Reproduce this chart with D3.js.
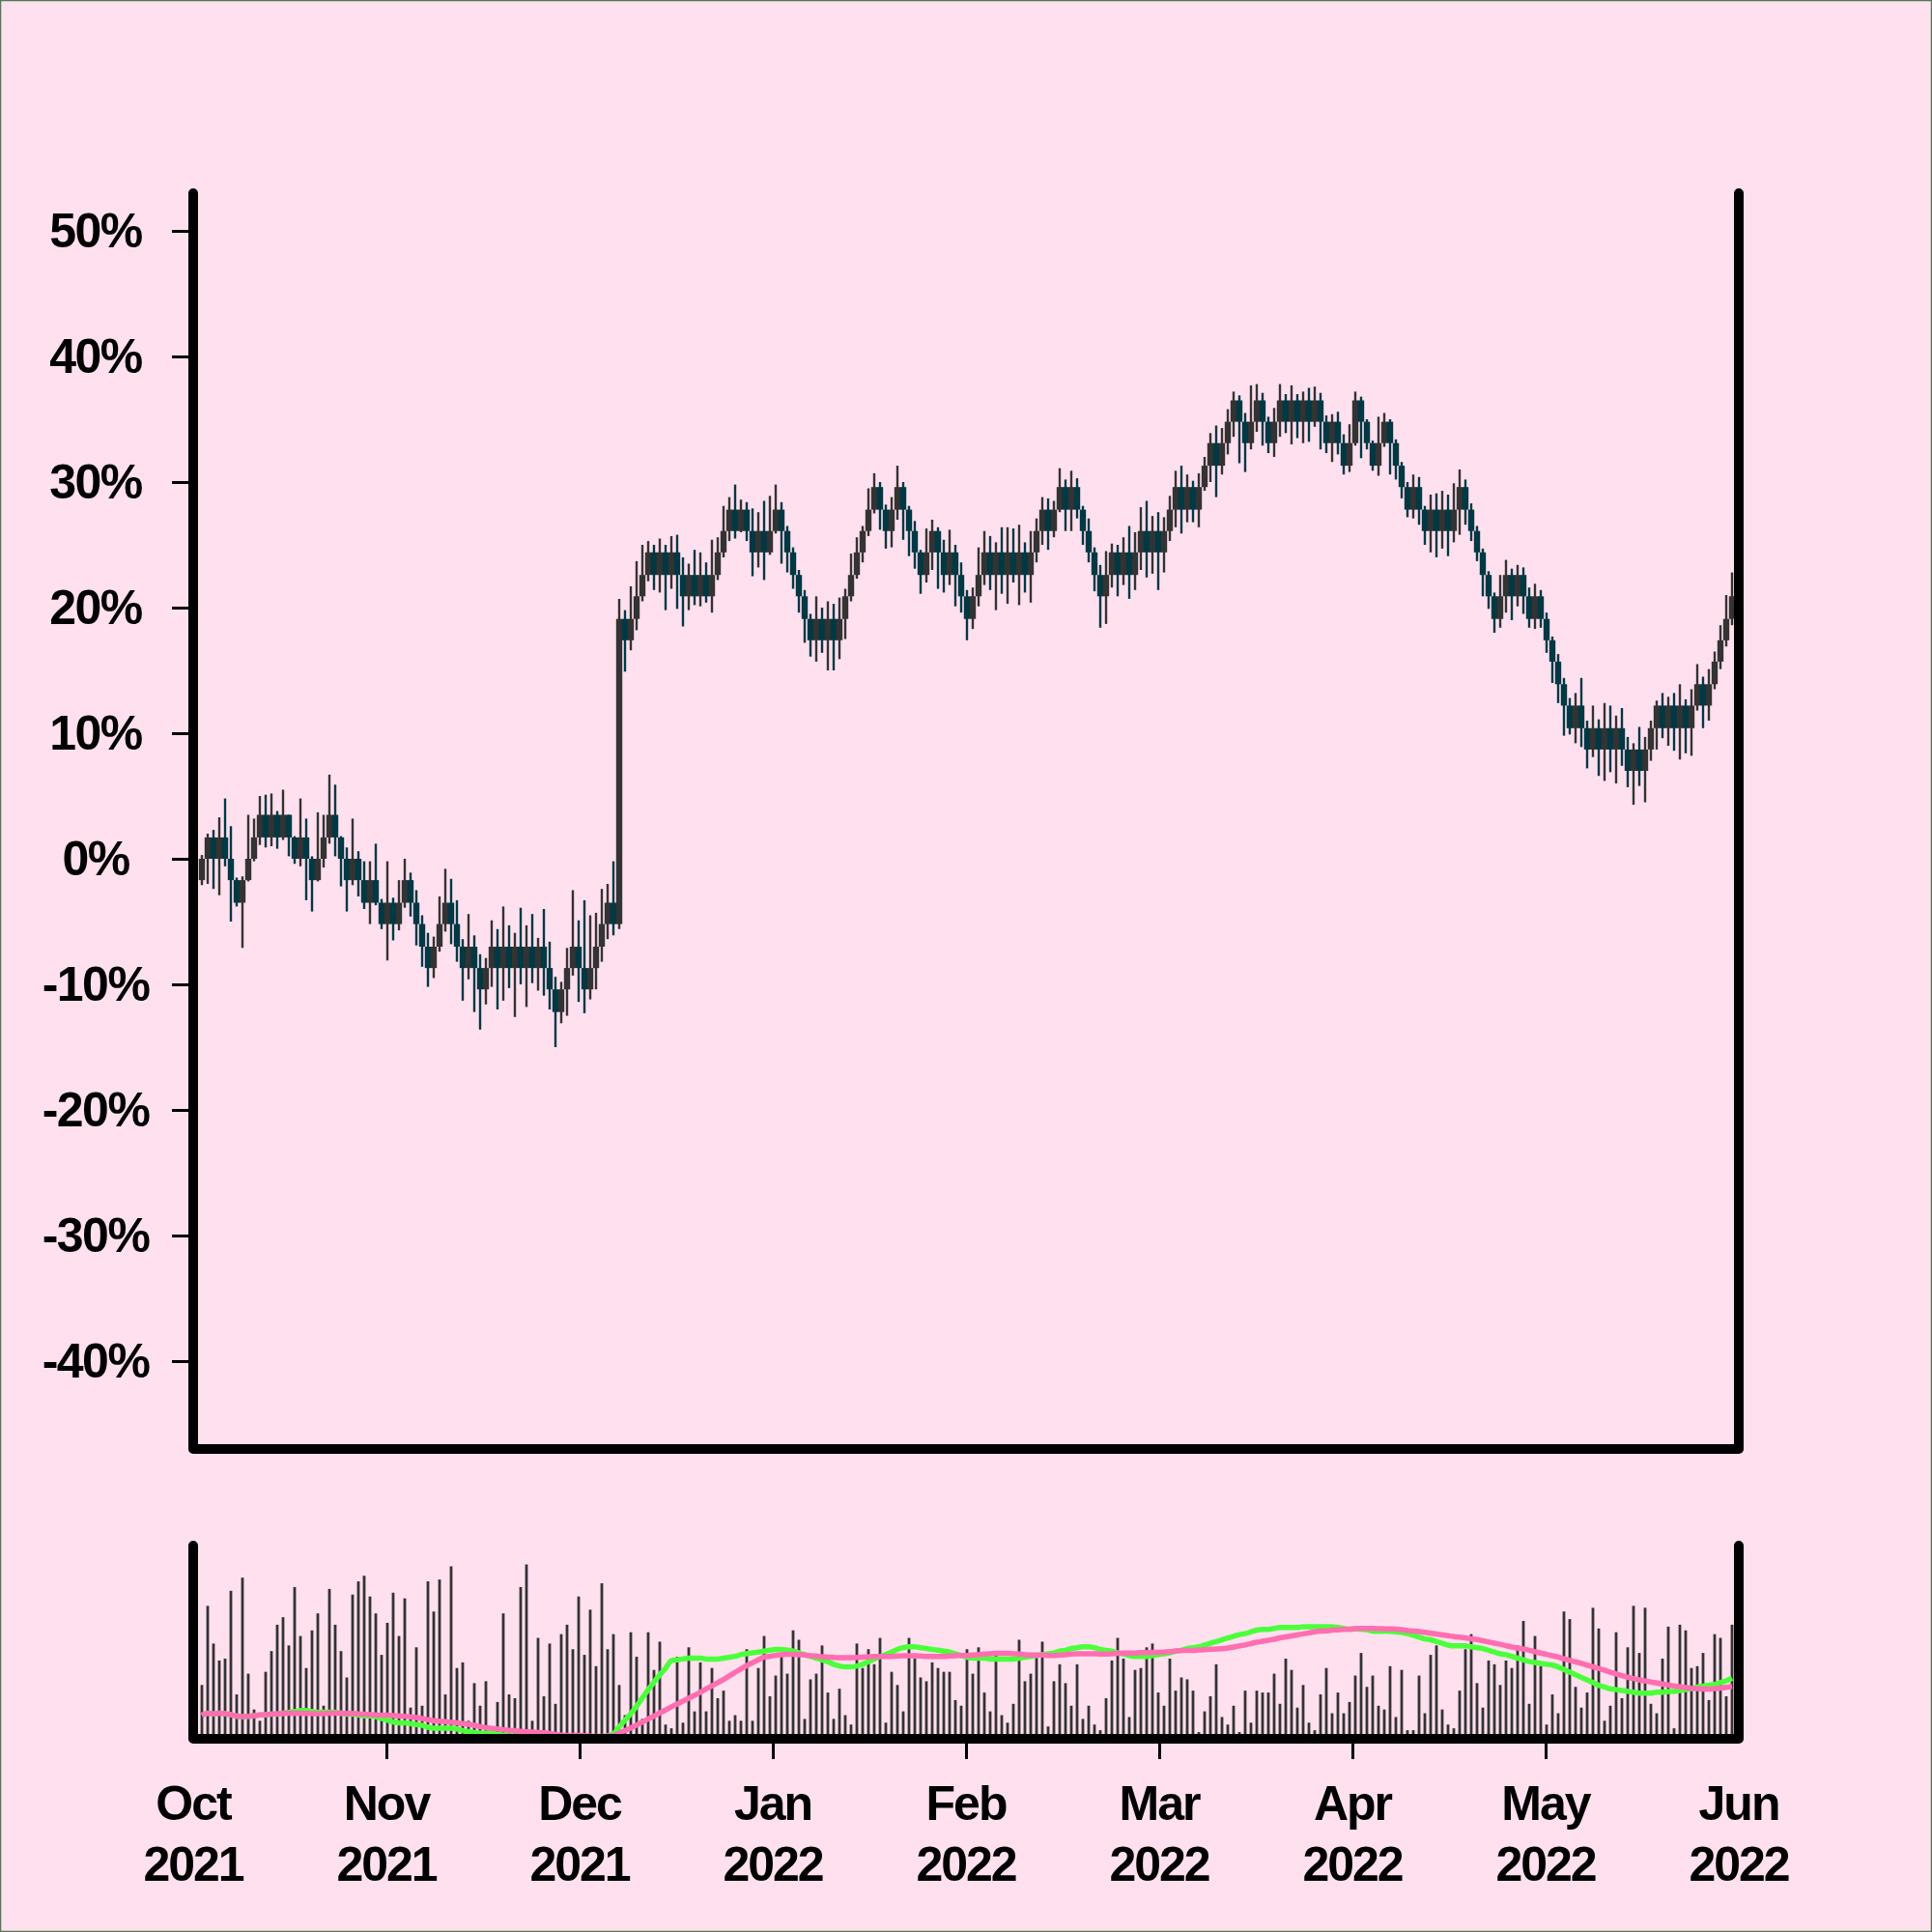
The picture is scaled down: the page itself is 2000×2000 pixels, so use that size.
<!DOCTYPE html>
<html>
<head>
<meta charset="utf-8">
<script src="https://cdn.jsdelivr.net/npm/d3@7"></script>
<style>
html,body{margin:0;padding:0;background:#ffe0ee;}
svg{display:block;}
</style>
</head>
<body>
<svg id="chart" width="2000" height="2000"></svg>
<script>
// ---------- DATA (percent change, one candle per session) ----------
const monthLabels = ["Oct 2021","Nov 2021","Dec 2021","Jan 2022","Feb 2022","Mar 2022","Apr 2022","May 2022","Jun 2022"];
const yTicks = [-40,-30,-20,-10,0,10,20,30,40,50];

const openPct = [
-1.7,0,1.7,0,1.7,0,-1.7,-3.5,-1.7,0,
1.7,3.5,1.7,3.5,1.7,3.5,1.7,0,1.7,0,
-1.7,0,1.7,3.5,1.7,0,-1.7,0,-1.7,-3.5,
-1.7,-3.5,-5.2,-3.5,-5.2,-3.5,-1.7,-3.5,-5.2,-7.0,
-8.7,-7.0,-5.2,-3.5,-5.2,-7.0,-8.7,-7.0,-8.7,-10.4,
-8.7,-7.0,-8.7,-7.0,-8.7,-7.0,-8.7,-7.0,-8.7,-7.0,
-8.7,-10.4,-12.2,-10.4,-8.7,-7.0,-8.7,-10.4,-8.7,-7.0,
-5.2,-3.5,-5.2,19.1,17.4,19.1,20.9,22.6,24.4,22.6,
24.4,22.6,24.4,22.6,20.9,22.6,20.9,22.6,20.9,22.6,
24.4,26.1,27.8,26.1,27.8,26.1,24.4,26.1,24.4,26.1,
27.8,26.1,24.4,22.6,20.9,19.1,17.4,19.1,17.4,19.1,
17.4,19.1,20.9,22.6,24.4,26.1,27.8,29.6,27.8,26.1,
27.8,29.6,27.8,26.1,24.4,22.6,24.4,26.1,24.4,22.6,
24.4,22.6,20.9,19.1,20.9,22.6,24.4,22.6,24.4,22.6,
24.4,22.6,24.4,22.6,24.4,26.1,27.8,26.1,27.8,29.6,
27.8,29.6,27.8,26.1,24.4,22.6,20.9,22.6,24.4,22.6,
24.4,22.6,24.4,26.1,24.4,26.1,24.4,26.1,27.8,29.6,
27.8,29.6,27.8,29.6,31.3,33.1,31.3,33.1,34.8,36.5,
34.8,33.1,34.8,36.5,34.8,33.1,34.8,36.5,34.8,36.5,
34.8,36.5,34.8,36.5,34.8,33.1,34.8,33.1,31.3,33.1,
36.5,34.8,33.1,31.3,33.1,34.8,33.1,31.3,29.6,27.8,
29.6,27.8,26.1,27.8,26.1,27.8,26.1,27.8,29.6,27.8,
26.1,24.4,22.6,20.9,19.1,20.9,22.6,20.9,22.6,20.9,
19.1,20.9,19.1,17.4,15.7,13.9,12.2,10.4,12.2,10.4,
8.7,10.4,8.7,10.4,8.7,10.4,8.7,7.0,8.7,7.0,
8.7,10.4,12.2,10.4,12.2,10.4,12.2,10.4,12.2,13.9,
12.2,13.9,15.7,17.4,19.1
];

const closePct = [
0,1.7,0,1.7,0,-1.7,-3.5,-1.7,0,1.7,
3.5,1.7,3.5,1.7,3.5,1.7,0,1.7,0,-1.7,
0,1.7,3.5,1.7,0,-1.7,0,-1.7,-3.5,-1.7,
-3.5,-5.2,-3.5,-5.2,-3.5,-1.7,-3.5,-5.2,-7.0,-8.7,
-7.0,-5.2,-3.5,-5.2,-7.0,-8.7,-7.0,-8.7,-10.4,-8.7,
-7.0,-8.7,-7.0,-8.7,-7.0,-8.7,-7.0,-8.7,-7.0,-8.7,
-10.4,-12.2,-10.4,-8.7,-7.0,-8.7,-10.4,-8.7,-7.0,-5.2,
-3.5,-5.2,19.1,17.4,19.1,20.9,22.6,24.4,22.6,24.4,
22.6,24.4,22.6,20.9,22.6,20.9,22.6,20.9,22.6,24.4,
26.1,27.8,26.1,27.8,26.1,24.4,26.1,24.4,26.1,27.8,
26.1,24.4,22.6,20.9,19.1,17.4,19.1,17.4,19.1,17.4,
19.1,20.9,22.6,24.4,26.1,27.8,29.6,27.8,26.1,27.8,
29.6,27.8,26.1,24.4,22.6,24.4,26.1,24.4,22.6,24.4,
22.6,20.9,19.1,20.9,22.6,24.4,22.6,24.4,22.6,24.4,
22.6,24.4,22.6,24.4,26.1,27.8,26.1,27.8,29.6,27.8,
29.6,27.8,26.1,24.4,22.6,20.9,22.6,24.4,22.6,24.4,
22.6,24.4,26.1,24.4,26.1,24.4,26.1,27.8,29.6,27.8,
29.6,27.8,29.6,31.3,33.1,31.3,33.1,34.8,36.5,34.8,
33.1,34.8,36.5,34.8,33.1,34.8,36.5,34.8,36.5,34.8,
36.5,34.8,36.5,34.8,33.1,34.8,33.1,31.3,33.1,36.5,
34.8,33.1,31.3,33.1,34.8,33.1,31.3,29.6,27.8,29.6,
27.8,26.1,27.8,26.1,27.8,26.1,27.8,29.6,27.8,26.1,
24.4,22.6,20.9,19.1,20.9,22.6,20.9,22.6,20.9,19.1,
20.9,19.1,17.4,15.7,13.9,12.2,10.4,12.2,10.4,8.7,
10.4,8.7,10.4,8.7,10.4,8.7,7.0,8.7,7.0,8.7,
10.4,12.2,10.4,12.2,10.4,12.2,10.4,12.2,13.9,12.2,
13.9,15.7,17.4,19.1,20.9
];

const highPct = [
0.3,2.0,2.3,3.3,4.8,2.6,-1.5,-1.4,3.5,3.2,
5.0,5.1,5.2,3.8,5.5,3.5,1.8,4.8,3.2,0.2,
3.7,3.5,6.7,5.9,1.8,0.9,3.2,0.6,-0.2,-0.2,
1.2,-3.2,-0.2,-3.1,-1.7,0.0,-1.1,-2.5,-4.5,-5.9,
-6.2,-3.0,-0.8,-1.6,-3.3,-6.4,-4.4,-6.1,-7.6,-7.9,
-4.9,-5.6,-3.8,-5.3,-5.9,-3.9,-5.3,-4.4,-6.3,-4.0,
-6.6,-9.4,-9.8,-7.1,-2.5,-4.9,-3.3,-4.5,-4.3,-2.4,
-2.0,-0.2,20.7,19.8,21.7,23.7,25.0,25.3,25.0,25.5,
25.0,25.7,25.8,24.0,23.5,24.6,24.4,23.6,25.4,25.6,
28.1,28.8,29.8,28.6,28.4,27.9,27.6,28.5,28.9,29.8,
28.4,26.5,24.8,23.0,21.4,19.5,20.9,20.0,20.5,20.3,
20.8,21.5,24.3,25.6,26.5,29.5,30.7,30.0,28.2,28.8,
31.3,30.0,28.1,26.9,24.6,26.3,27.0,26.4,25.4,26.2,
25.0,23.6,21.4,21.6,24.8,26.1,25.7,25.2,26.4,26.4,
26.3,26.6,25.2,26.1,27.1,28.8,28.7,28.5,31.1,30.2,
30.9,30.3,28.1,27.1,24.8,23.4,24.5,25.1,25.0,25.6,
26.5,26.0,28.0,28.5,27.3,27.6,27.2,28.9,30.9,31.3,
30.6,30.1,30.7,32.0,33.9,34.5,34.3,35.8,37.2,36.9,
35.5,37.7,37.8,37.1,35.2,35.9,37.8,37.0,37.7,37.0,
37.2,37.5,37.6,37.1,35.3,35.4,35.6,33.8,34.6,37.2,
36.8,35.0,33.3,35.2,35.5,35.0,33.4,31.6,30.0,30.6,
30.4,28.1,29.0,29.1,29.3,29.0,29.9,31.0,30.2,28.3,
26.5,24.7,22.9,21.2,22.6,23.8,23.1,23.4,23.2,21.6,
21.9,21.4,19.6,17.7,16.3,14.4,12.8,13.2,14.4,11.0,
12.2,11.1,12.4,12.2,11.4,12.0,9.7,9.2,10.5,9.7,
11.0,12.6,13.2,12.9,13.2,13.9,12.7,13.5,15.5,14.5,
15.1,16.5,18.6,21.0,22.8
];

const lowPct = [
-2.1,-2.0,-2.4,-2.9,-0.6,-5.0,-3.8,-7.1,-1.8,-0.2,
1.1,0.9,1.0,0.8,1.5,0.2,-0.4,-0.6,-3.3,-4.2,
-1.8,-0.7,1.2,0.2,-2.2,-4.2,-2.1,-3.0,-4.0,-5.2,
-3.7,-5.6,-8.1,-6.5,-5.7,-3.9,-4.6,-6.9,-8.6,-10.2,
-9.5,-7.4,-5.8,-6.8,-8.2,-11.3,-9.6,-12.2,-13.6,-11.6,
-10.2,-12.0,-11.3,-10.3,-12.6,-10.0,-11.8,-9.9,-10.5,-10.9,
-12.0,-15.0,-13.1,-12.5,-9.3,-11.4,-12.3,-11.2,-10.4,-8.2,
-6.4,-6.1,-5.6,14.9,16.6,18.2,20.5,22.1,21.4,21.2,
19.8,21.5,19.9,18.5,19.8,20.2,20.1,20.4,19.6,22.2,
24.0,25.3,25.5,26.0,25.3,22.5,23.2,22.2,24.2,25.9,
23.5,22.8,21.5,19.6,17.2,16.1,15.7,16.4,15.0,15.0,
15.9,17.5,20.5,22.3,23.6,25.7,27.5,26.2,24.7,24.8,
27.0,25.4,24.1,23.1,21.1,22.0,23.0,21.5,21.2,21.8,
20.1,19.6,17.4,18.3,20.1,21.8,21.4,19.8,21.1,20.3,
22.0,20.2,21.2,20.4,23.6,25.0,24.6,25.6,27.6,26.1,
26.1,27.1,25.0,23.6,21.3,18.4,18.7,21.6,20.9,21.8,
20.7,21.4,23.0,22.4,22.7,21.4,22.8,25.3,26.4,25.9,
26.8,26.8,26.4,29.3,30.0,28.8,30.6,32.2,33.6,31.5,
30.8,32.6,34.0,32.9,32.3,32.0,33.6,33.9,33.0,33.5,
33.1,33.2,34.4,32.6,32.3,31.6,32.2,30.6,30.8,32.9,
31.9,32.6,30.9,30.5,32.8,30.6,30.2,28.7,27.2,27.1,
26.6,25.0,24.4,24.0,24.7,24.1,25.2,25.8,26.6,25.3,
23.7,20.9,19.9,18.0,18.4,19.6,19.0,20.1,19.5,18.4,
18.3,18.4,16.4,14.0,12.4,9.8,9.9,9.2,8.9,7.2,
8.1,6.6,6.2,6.9,6.0,7.4,5.7,4.3,5.8,4.5,
7.8,8.7,9.6,9.0,8.6,7.9,8.4,8.2,11.8,10.4,
11.0,13.5,15.1,16.9,18.6
];

const volume = [
26,68,48,39,40,76,21,83,32,13,
7,33,44,58,62,47,78,52,35,55,
64,15,77,58,44,30,74,81,84,73,
64,42,59,75,52,72,14,46,15,81,
65,82,21,89,35,38,7,27,15,28,
2,17,64,21,19,78,90,7,51,20,
48,16,53,58,45,73,42,66,36,80,
45,53,26,10,54,41,8,54,34,49,
5,3,41,6,46,12,38,12,35,19,
23,7,10,7,45,7,35,52,20,31,
43,32,55,50,8,29,32,47,22,8,
24,10,5,48,35,45,37,51,6,33,
26,12,51,40,30,28,38,35,33,33,
18,15,45,32,46,22,12,43,10,6,
16,50,28,32,43,49,4,28,37,27,
15,37,8,15,5,2,19,39,51,40,
9,34,35,46,48,22,15,40,23,30,
29,23,1,12,20,37,9,5,15,1,
23,6,23,22,22,32,16,40,34,14,
26,6,2,21,35,11,22,11,17,31,
43,25,31,15,13,36,9,34,2,2,
31,11,42,47,13,5,3,23,45,53,
27,14,39,37,26,39,35,47,60,16,
52,36,5,21,11,65,61,25,14,22,
67,56,7,15,54,19,46,68,43,67,
16,11,40,57,3,58,55,35,36,43,
18,53,51,20,58
];

const maShortWindow = 10;
const maLongWindow = 26;

// ---------- DRAWING ----------
const svg = d3.select("#chart");
const N = closePct.length;
const FONT = "'Liberation Sans', Arial, Helvetica, sans-serif";
const UP = "#333333", DOWN = "#003844";

svg.append("rect").attr("x",0.5).attr("y",0.5).attr("width",1999).attr("height",1999)
  .attr("fill","#ffe0ee").attr("stroke","#4f7a4f").attr("stroke-width",1.5);

const x = d3.scaleBand().domain(d3.range(N)).range([206,1796]).padding(0);
const xc = i => x(i) + x.bandwidth()/2;
const y = d3.scaleLinear().domain([-47,53]).range([1500,200]);
const yVol = d3.scaleLinear().domain([0,100]).range([1795,1600]);
const yMA = d3.scaleLinear().domain([-7.4,67.6]).range([1795,1600]);
const xMonth = d3.scalePoint().domain(monthLabels).range([200,1800]);

// candles
const gC = svg.append("g");
const idx = d3.range(N);
const col = i => closePct[i] >= openPct[i] ? UP : DOWN;
gC.selectAll("line").data(idx).join("line")
  .attr("x1", xc).attr("x2", xc)
  .attr("y1", i => y(highPct[i])).attr("y2", i => y(lowPct[i]))
  .attr("stroke", col).attr("stroke-width", 2.4);
gC.selectAll("rect").data(idx).join("rect")
  .attr("x", i => x(i) - 0.2).attr("width", x.bandwidth() + 0.4)
  .attr("y", i => y(Math.max(openPct[i], closePct[i])))
  .attr("height", i => Math.max(1, Math.abs(y(openPct[i]) - y(closePct[i]))))
  .attr("fill", col);

// volume
svg.append("g").selectAll("rect").data(idx).join("rect")
  .attr("x", i => xc(i) - 1.4).attr("width", 2.8)
  .attr("y", i => yVol(volume[i])).attr("height", i => yVol(0) - yVol(volume[i]))
  .attr("fill", "#333333");

// moving averages of close
function sma(w){
  return idx.map(i => d3.mean(closePct.slice(Math.max(0, i - w + 1), i + 1)));
}
const maS = sma(maShortWindow), maL = sma(maLongWindow);
svg.append("clipPath").attr("id","volclip").append("rect")
  .attr("x",200).attr("y",1590).attr("width",1600).attr("height",207);
const line = arr => d3.line().x(i => xc(i)).y(i => yMA(arr[i])).curve(d3.curveMonotoneX)(idx);
const gM = svg.append("g").attr("clip-path","url(#volclip)");
gM.append("path").attr("d", line(maS)).attr("fill","none").attr("stroke","#4cff3c").attr("stroke-width",5.5);
gM.append("path").attr("d", line(maL)).attr("fill","none").attr("stroke","#ff6eb0").attr("stroke-width",5.5);

// y axis
const ya = svg.append("g").attr("transform","translate(200,0)")
  .call(d3.axisLeft(y).tickValues(yTicks).tickSize(22).tickFormat(d => d + "%"));
ya.select(".domain").remove();
ya.selectAll(".tick line").attr("stroke","#000").attr("stroke-width",3);
ya.selectAll(".tick text").attr("x",-101).attr("dy","0.32em").attr("text-anchor","middle")
  .attr("fill","#000").style("font-family",FONT).style("font-weight","bold")
  .style("font-size","50px").style("letter-spacing","-1.5px");

// x axis (ticks below volume panel)
const xa = svg.append("g").attr("transform","translate(0,1800)")
  .call(d3.axisBottom(xMonth).tickValues(monthLabels.slice(1, -1)).tickSize(21).tickFormat(""));
xa.select(".domain").remove();
xa.selectAll(".tick line").attr("stroke","#000").attr("stroke-width",3);
xa.selectAll(".tick text").remove();
const gL = svg.append("g");
gL.selectAll("text").data(monthLabels).join("text")
  .attr("text-anchor","middle").attr("fill","#000")
  .style("font-family",FONT).style("font-weight","bold").style("font-size","50px").style("letter-spacing","-2px")
  .each(function(d){
    const p = d.split(" ");
    const t = d3.select(this);
    t.append("tspan").attr("x", xMonth(d)).attr("y", 1884).text(p[0]);
    t.append("tspan").attr("x", xMonth(d)).attr("y", 1947).text(p[1]);
  });

// spines
const spine = d => svg.append("path").attr("d", d).attr("fill","none").attr("stroke","#000")
  .attr("stroke-width",10).attr("stroke-linecap","round").attr("stroke-linejoin","round");
spine(`M200,200V1500H1800V200`);
spine(`M200,1600V1800H1800V1600`);
</script>
</body>
</html>
